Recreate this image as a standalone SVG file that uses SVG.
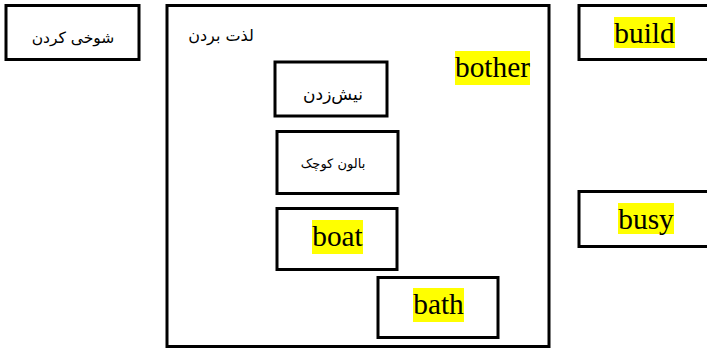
<svg xmlns="http://www.w3.org/2000/svg" width="707" height="351" viewBox="0 0 707 351">
<style>
.box{fill:#fff;stroke:#000;stroke-width:3}
.fa{font-family:"DejaVu Sans","Noto Sans",sans-serif;font-size:15.5px;fill:#000;text-anchor:middle;direction:rtl}
.en{font-family:"Liberation Serif","Times New Roman",serif;font-size:29.33px;fill:#000;text-anchor:middle}
.hl{fill:#ffff00}
</style>
<rect width="707" height="351" fill="#fff"/>
<g id="n-shookhi">
<rect class="box" x="6" y="5.5" width="133" height="54"/>
<text class="fa" x="73" y="43">شوخی کردن</text>
</g>
<g id="n-lezzat">
<rect class="box" x="167" y="5.5" width="382" height="341"/>
<text class="fa" x="221" y="41" style="font-size:16px">لذت بردن</text>
</g>
<g id="n-bother">
<rect class="hl" x="455" y="51" width="75" height="34"/>
<text class="en" x="492.5" y="77">bother</text>
</g>
<g id="n-nish">
<rect class="box" x="275" y="62" width="112" height="54"/>
<text class="fa" x="333" y="100" style="font-size:17px">نیش‌زدن</text>
</g>
<g id="n-balloon">
<rect class="box" x="277" y="131.5" width="121" height="62"/>
<text class="fa" x="333" y="168" style="font-size:13px">بالون کوچک</text>
</g>
<g id="n-boat">
<rect class="box" x="277" y="208.5" width="120" height="61"/>
<rect class="hl" x="312" y="220" width="51" height="34"/>
<text class="en" x="337.5" y="246">boat</text>
</g>
<g id="n-bath">
<rect class="box" x="378" y="277.5" width="120" height="60"/>
<rect class="hl" x="413" y="288" width="51" height="34"/>
<text class="en" x="438.5" y="314">bath</text>
</g>
<g id="n-build">
<rect class="box" x="579" y="5.5" width="140" height="54"/>
<rect class="hl" x="614" y="17" width="61" height="31"/>
<text class="en" x="644.5" y="43">build</text>
</g>
<g id="n-busy">
<rect class="box" x="579" y="191.5" width="140" height="55"/>
<rect class="hl" x="618" y="203" width="56" height="31"/>
<text class="en" x="646" y="229">busy</text>
</g>
<g id="connectors"></g>
</svg>
